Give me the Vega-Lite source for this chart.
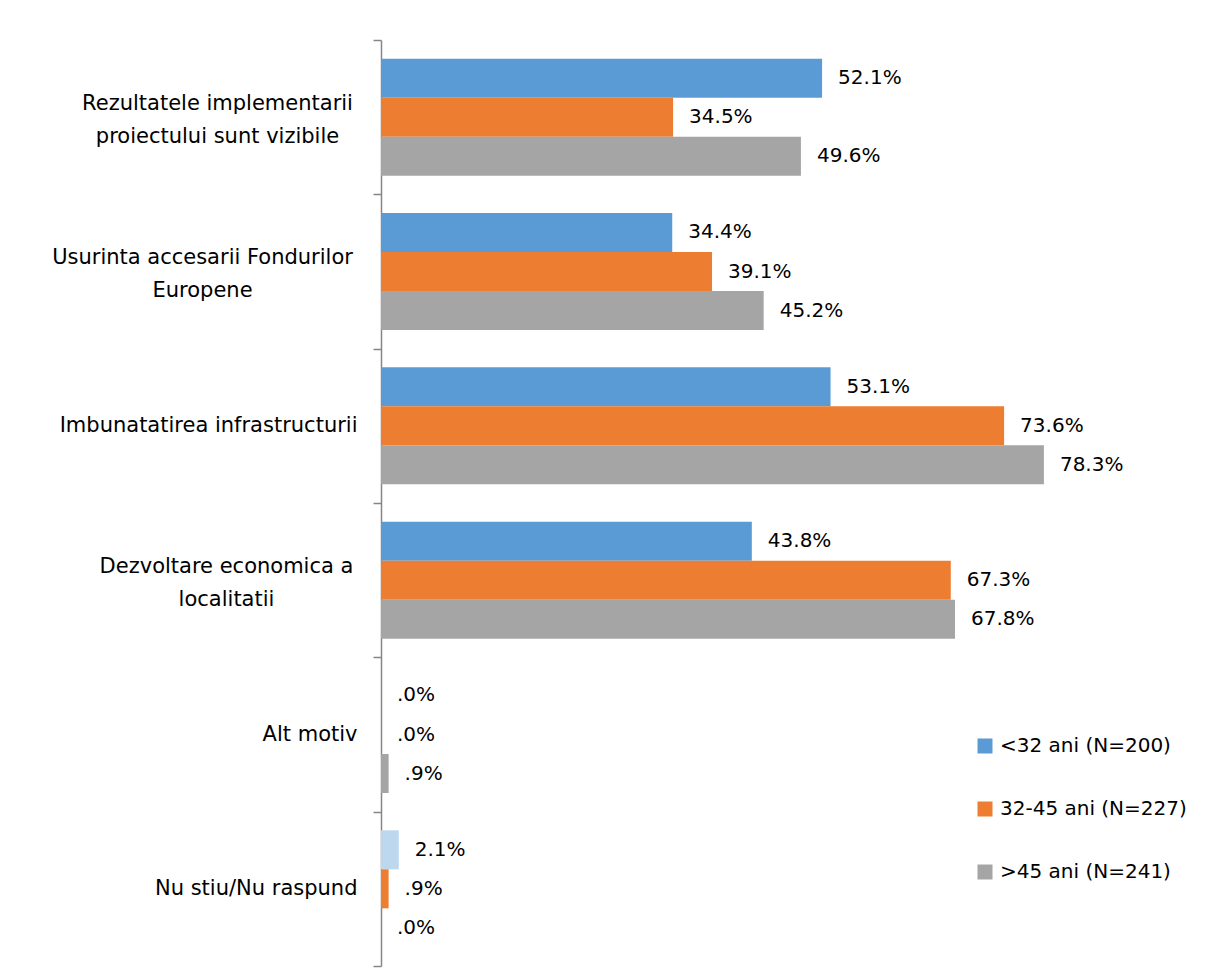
{
  "$schema": "https://vega.github.io/schema/vega-lite/v6.json",
  "width": 817,
  "height": 926,
  "autosize": "none",
  "padding": {"left": 381, "top": 40, "right": 26, "bottom": 2},
  "background": "white",
  "config": {
    "view": {"stroke": null},
    "font": "DejaVu Sans"
  },
  "data": {
    "values": [
      {"cat": "Rezultatele implementarii proiectului sunt vizibile", "grp": "<32 ani (N=200)", "v": 52.1},
      {"cat": "Rezultatele implementarii proiectului sunt vizibile", "grp": "32-45 ani (N=227)", "v": 34.5},
      {"cat": "Rezultatele implementarii proiectului sunt vizibile", "grp": ">45 ani  (N=241)", "v": 49.6},
      {"cat": "Usurinta accesarii Fondurilor Europene", "grp": "<32 ani (N=200)", "v": 34.4},
      {"cat": "Usurinta accesarii Fondurilor Europene", "grp": "32-45 ani (N=227)", "v": 39.1},
      {"cat": "Usurinta accesarii Fondurilor Europene", "grp": ">45 ani  (N=241)", "v": 45.2},
      {"cat": "Imbunatatirea infrastructurii", "grp": "<32 ani (N=200)", "v": 53.1},
      {"cat": "Imbunatatirea infrastructurii", "grp": "32-45 ani (N=227)", "v": 73.6},
      {"cat": "Imbunatatirea infrastructurii", "grp": ">45 ani  (N=241)", "v": 78.3},
      {"cat": "Dezvoltare economica a localitatii", "grp": "<32 ani (N=200)", "v": 43.8},
      {"cat": "Dezvoltare economica a localitatii", "grp": "32-45 ani (N=227)", "v": 67.3},
      {"cat": "Dezvoltare economica a localitatii", "grp": ">45 ani  (N=241)", "v": 67.8},
      {"cat": "Alt motiv", "grp": "<32 ani (N=200)", "v": 0.0},
      {"cat": "Alt motiv", "grp": "32-45 ani (N=227)", "v": 0.0},
      {"cat": "Alt motiv", "grp": ">45 ani  (N=241)", "v": 0.9},
      {"cat": "Nu stiu/Nu raspund", "grp": "<32 ani (N=200)", "v": 2.1},
      {"cat": "Nu stiu/Nu raspund", "grp": "32-45 ani (N=227)", "v": 0.9},
      {"cat": "Nu stiu/Nu raspund", "grp": ">45 ani  (N=241)", "v": 0.0}
    ]
  },
  "transform": [
    {"calculate": "(datum.v < 1 ? replace(format(datum.v, '.1f'), '0.', '.') : format(datum.v, '.1f')) + '%'", "as": "lbl"}
  ],
  "encoding": {
    "y": {
      "field": "cat",
      "type": "nominal",
      "sort": ["Rezultatele implementarii proiectului sunt vizibile", "Usurinta accesarii Fondurilor Europene", "Imbunatatirea infrastructurii", "Dezvoltare economica a localitatii", "Alt motiv", "Nu stiu/Nu raspund"],
      "scale": {"paddingInner": 0, "paddingOuter": 0},
      "axis": {
        "title": null,
        "tickBand": "extent",
        "tickSize": 8,
        "tickColor": "#868686",
        "tickWidth": 1.5,
        "domainColor": "#868686",
        "domainWidth": 1.5,
        "labelFont": "DejaVu Sans",
        "labelFontSize": 21,
        "labelColor": "#000000",
        "labelLimit": 400,
        "labelLineHeight": 33,
        "labelBaseline": "middle",
        "labelAlign": {"condition": {"test": "indexof(['Rezultatele implementarii proiectului sunt vizibile', 'Usurinta accesarii Fondurilor Europene', 'Dezvoltare economica a localitatii'], datum.value) >= 0", "value": "center"}, "value": "right"},
        "labelPadding": {"condition": [
          {"test": "datum.value == 'Rezultatele implementarii proiectului sunt vizibile'", "value": 156},
          {"test": "datum.value == 'Usurinta accesarii Fondurilor Europene'", "value": 171},
          {"test": "datum.value == 'Dezvoltare economica a localitatii'", "value": 147}
        ], "value": 16},
        "labelOffset": {"condition": {"test": "indexof(['Rezultatele implementarii proiectului sunt vizibile', 'Usurinta accesarii Fondurilor Europene', 'Dezvoltare economica a localitatii'], datum.value) >= 0", "value": -14}, "value": 0},
        "labelExpr": "datum.label == 'Rezultatele implementarii proiectului sunt vizibile' ? ['Rezultatele implementarii', 'proiectului sunt vizibile'] : datum.label == 'Usurinta accesarii Fondurilor Europene' ? ['Usurinta accesarii Fondurilor', 'Europene'] : datum.label == 'Dezvoltare economica a localitatii' ? ['Dezvoltare economica a', 'localitatii'] : datum.label"
      }
    },
    "yOffset": {
      "field": "grp",
      "type": "nominal",
      "sort": ["<32 ani (N=200)", "32-45 ani (N=227)", ">45 ani  (N=241)"],
      "scale": {"paddingInner": 0, "paddingOuter": 0.478}
    },
    "x": {
      "field": "v",
      "type": "quantitative",
      "scale": {"domain": [0, 96.5]},
      "axis": null
    }
  },
  "layer": [
    {
      "mark": {"type": "bar"},
      "encoding": {
        "color": {
          "condition": {"test": "datum.cat == 'Nu stiu/Nu raspund' && datum.grp == '<32 ani (N=200)'", "value": "#BDD7EE"},
          "field": "grp",
          "type": "nominal",
          "sort": ["<32 ani (N=200)", "32-45 ani (N=227)", ">45 ani  (N=241)"],
          "scale": {"domain": ["<32 ani (N=200)", "32-45 ani (N=227)", ">45 ani  (N=241)"], "range": ["#5B9BD5", "#ED7D31", "#A5A5A5"]},
          "legend": {
            "title": null,
            "orient": "none",
            "legendX": 594,
            "legendY": 696,
            "symbolType": "square",
            "symbolSize": 225,
            "symbolStrokeWidth": 0,
            "symbolOpacity": 1,
            "labelFont": "DejaVu Sans",
            "labelFontSize": 20,
            "labelColor": "#000000",
            "labelOffset": 5,
            "rowPadding": 43,
            "labelLimit": 300
          }
        }
      }
    },
    {
      "mark": {"type": "text", "align": "left", "baseline": "middle", "dx": 16, "font": "DejaVu Sans", "fontSize": 20, "color": "#000000"},
      "encoding": {
        "text": {"field": "lbl", "type": "nominal"}
      }
    }
  ]
}
